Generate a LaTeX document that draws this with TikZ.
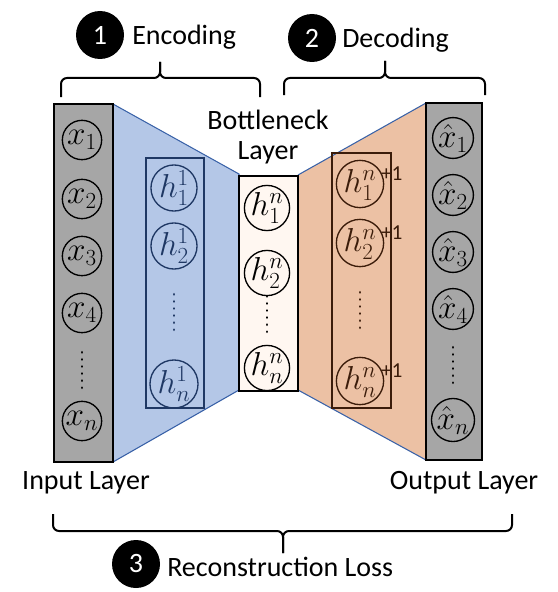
\documentclass[tikz,border=0pt]{standalone}
\usepackage{fontspec}
\setmainfont{Carlito}
\definecolor{grayfill}{HTML}{A6A6A6}
\definecolor{bluefill}{HTML}{B4C7E7}
\definecolor{blueedge}{HTML}{3A62A8}
\definecolor{navy}{HTML}{1F3864}
\definecolor{orangefill}{HTML}{ECC1A4}
\definecolor{brownc}{HTML}{3B1C0A}
\definecolor{bnfill}{HTML}{FFF7F1}
\newcommand{\plusone}{\rlap{\normalfont\fontsize{16}{16}\selectfont\hspace{4pt}+1}}
\begin{document}
\begin{tikzpicture}[x=0.75pt,y=-0.75pt,
  neur/.style={circle, draw, line width=1pt, minimum size=29.5pt, inner sep=0pt, font=\fontsize{24}{24}\selectfont},
  numc/.style={circle, fill=black, text=white, minimum size=36pt, inner sep=0pt, font=\fontsize{21}{21}\selectfont},
  lbl/.style={inner sep=0pt, font=\fontsize{21}{22}\selectfont},
  dotcol/.style={line width=2.2pt, line cap=round, dash pattern=on 0.01pt off 5.3pt},
  brc/.style={line width=1.5pt, rounded corners=4.5pt},
  barbox/.style={fill=grayfill, draw=black, line width=1.6pt},
  trap/.style={line width=0.8pt, draw=blueedge}
]
\useasboundingbox (0,0) rectangle (557,592);

% corner coordinates
\coordinate (inTL) at (54,104);   \coordinate (inBR) at (113,462);
\coordinate (inTR) at (113,104);  \coordinate (inBRb) at (113,462);
\coordinate (bnTL) at (239,176);  \coordinate (bnBR) at (298,391);
\coordinate (outTL) at (426,103); \coordinate (outBR) at (482,460);

% trapezoids
\fill[bluefill] (inTR) -- (239,174) -- (239,390) -- (inBRb) -- cycle;
\draw[trap] (inTR) -- (239,174) -- (239,390) -- (inBRb);
\fill[orangefill] (298,175) -- (outTL) -- (426,460) -- (298,390) -- cycle;
\draw[trap] (298,175) -- (outTL) -- (426,460) -- (298,390);

% bars and boxes
\draw[barbox] (inTL) rectangle (inBR);
\draw[barbox] (outTL) rectangle (outBR);
\draw[navy, line width=1.5pt] (146,158) rectangle (204,408);
\draw[fill=bnfill, draw=black, line width=1.5pt] (bnTL) rectangle (bnBR);
\draw[brownc, line width=1.5pt] (332,153) rectangle (391,408);

% input neurons
\node[neur] (x1) at (82,140) {$x_1$};
\node[neur] (x2) at (82,199) {$x_2$};
\node[neur] (x3) at (82,256) {$x_3$};
\node[neur] (x4) at (82,313) {$x_4$};
\coordinate (xd) at (82,371);
\node[neur] (xn) at (82,421) {$x_n$};
\draw[dotcol] ([yshift=14]xd) -- ([yshift=-14]xd);

% encoder hidden
\node[neur, draw=navy, text=navy] (ha1) at (174,188) {$h_1^1$};
\node[neur, draw=navy, text=navy] (ha2) at (174,246) {$h_2^1$};
\coordinate (had) at (174,313);
\node[neur, draw=navy, text=navy] (han) at (174,384) {$h_n^1$};
\draw[dotcol, navy] ([yshift=14]had) -- ([yshift=-14]had);

% bottleneck
\node[neur] (hb1) at (267,208) {$h_1^n$};
\node[neur] (hb2) at (267,273) {$h_2^n$};
\coordinate (hbd) at (267,315);
\node[neur] (hbn) at (267,368) {$h_n^n$};
\draw[dotcol] ([yshift=14]hbd) -- ([yshift=-14]hbd);

% decoder hidden
\node[neur, draw=brownc, text=brownc] (hc1) at (360,184) {$h_1^{n\plusone}$};
\node[neur, draw=brownc, text=brownc] (hc2) at (360,243) {$h_2^{n\plusone}$};
\coordinate (hcd) at (360,311);
\node[neur, draw=brownc, text=brownc] (hcn) at (360,381) {$h_n^{n\plusone}$};
\draw[dotcol, brownc] ([yshift=14]hcd) -- ([yshift=-14]hcd);

% output neurons
\node[neur] (y1) at (453,138) {$\hat{x}_1$};
\node[neur] (y2) at (453,195) {$\hat{x}_2$};
\node[neur] (y3) at (453,252) {$\hat{x}_3$};
\node[neur] (y4) at (453,309) {$\hat{x}_4$};
\coordinate (yd) at (453,366);
\node[neur] (yn) at (453,420) {$\hat{x}_n$};
\draw[dotcol] ([yshift=14]yd) -- ([yshift=-14]yd);

% labels
\node[lbl, align=center] (bnl) at (268,137) {Bottleneck\\Layer};
\node[lbl] (inl) at (86,483) {Input Layer};
\node[lbl] (outl) at (464,483) {Output Layer};

% top annotations
\node[numc] (n1) at (100,35) {1};
\node[lbl, anchor=west] (enc) at (132,37) {Encoding};
\node[numc] (n2) at (312,38) {2};
\node[lbl, anchor=west] (dec) at (342,40) {Decoding};
\node[numc] (n3) at (136,564) {3};
\node[lbl, anchor=west] (rec) at (167,567) {Reconstruction Loss};

% braces
\draw[brc] (61,97) -- (61,78) -- (160,78) -- (160,62);
\draw[brc] (260,97) -- (260,78) -- (160,78) -- (160,62);
\draw[brc] (284,95) -- (284,78) -- (385,78) -- (385,61);
\draw[brc] (485,95) -- (485,78) -- (385,78) -- (385,61);
\draw[brc] (53,514) -- (53,531) -- (283,531) -- (283,553);
\draw[brc] (512,514) -- (512,531) -- (283,531) -- (283,553);
\end{tikzpicture}
\end{document}
